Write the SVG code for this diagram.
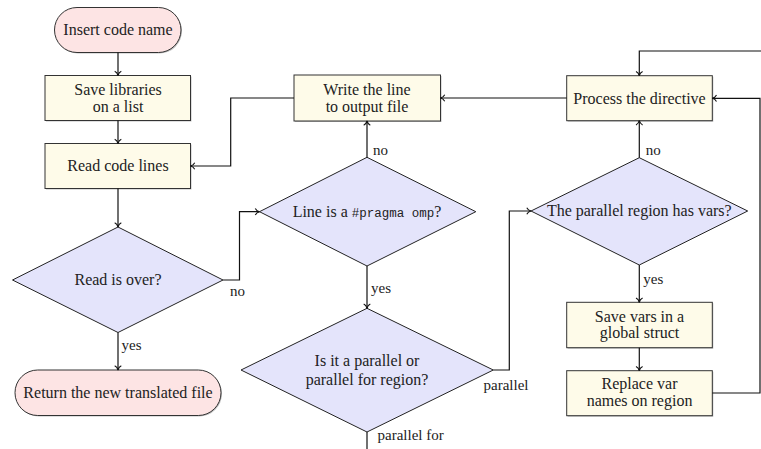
<svg xmlns="http://www.w3.org/2000/svg" width="761" height="449" viewBox="0 0 761 449">
<style>
.term{fill:#fde4e4;stroke:#333;stroke-width:1}
.proc{fill:#fefbe9;stroke:#333;stroke-width:1}
.dec{fill:#e4e4fb;stroke:#222;stroke-width:1}
.shadow{fill:#888;opacity:0.55}
text{font-family:"Liberation Serif","Times New Roman",serif;font-size:16px;fill:#222;text-anchor:middle}
.lbl{font-size:15px;text-anchor:start}
.mono{font-family:"Liberation Mono","Courier New",monospace;font-size:12.5px}
.conn path{fill:none;stroke:#111;stroke-width:1.2}
</style>
<defs>
<marker id="arr" markerUnits="userSpaceOnUse" markerWidth="10" markerHeight="10" viewBox="-6 -5 8 10" refX="0" refY="0" orient="auto">
<path d="M-4.2,-3.3 C-3.2,-1.3 -1.2,-0.3 0,0 C-1.2,0.3 -3.2,1.3 -4.2,3.3" fill="none" stroke="#111" stroke-width="1.1"/>
</marker>
</defs>
<rect width="761" height="449" fill="#fff"/>

<g id="start">
<rect class="shadow" x="55.5" y="8.5" width="126.5" height="45" rx="22.5"/>
<rect class="term" x="54.5" y="7.5" width="126.5" height="45" rx="22.5"/>
<text x="118" y="35">Insert code name</text>
</g>
<g id="savelibs">
<rect class="shadow" x="46" y="76.5" width="145.5" height="45"/>
<rect class="proc" x="45" y="75.5" width="145.5" height="45"/>
<text x="118" y="95">Save libraries</text>
<text x="118" y="111.7">on a list</text>
</g>
<g id="readlines">
<rect class="shadow" x="46" y="144.5" width="145.5" height="45"/>
<rect class="proc" x="45" y="143.5" width="145.5" height="45"/>
<text x="118" y="171">Read code lines</text>
</g>
<g id="readover">
<polygon class="dec" points="118,227 223,280 118,332.5 12.5,280"/>
<text x="118" y="285">Read is over?</text>
</g>
<g id="returnfile">
<rect class="shadow" x="16" y="371" width="206" height="45.5" rx="22.7"/>
<rect class="term" x="15" y="370" width="206" height="45.5" rx="22.7"/>
<text x="118" y="398">Return the new translated file</text>
</g>
<g id="writeline">
<rect class="shadow" x="295" y="76" width="146.5" height="46"/>
<rect class="proc" x="294" y="75" width="146.5" height="46"/>
<text x="367" y="94.5">Write the line</text>
<text x="367" y="111.5">to output file</text>
</g>
<g id="ispragma">
<polygon class="dec" points="367,157.3 475.8,211.7 367,266 259.5,211.7"/>
<text x="367" y="216.5">Line is a <tspan class="mono">#pragma omp</tspan>?</text>
</g>
<g id="isparallel">
<polygon class="dec" points="367,308.3 493.3,370 367,432 241,370"/>
<text x="367" y="366">Is it a parallel or</text>
<text x="367" y="384.5">parallel for region?</text>
</g>
<g id="process">
<rect class="shadow" x="567.7" y="76.7" width="145.6" height="45"/>
<rect class="proc" x="566.7" y="75.7" width="145.6" height="45"/>
<text x="639.5" y="103.5">Process the directive</text>
</g>
<g id="hasvars">
<polygon class="dec" points="639.3,157.7 747.7,211 639.3,265 531,211"/>
<text x="639.3" y="216">The parallel region has vars?</text>
</g>
<g id="savevars">
<rect class="shadow" x="567.7" y="303.3" width="145.6" height="45.4"/>
<rect class="proc" x="566.7" y="302.3" width="145.6" height="45.4"/>
<text x="639.5" y="321.5">Save vars in a</text>
<text x="639.5" y="337.8">global struct</text>
</g>
<g id="replace">
<rect class="shadow" x="567.7" y="371.7" width="145.6" height="45"/>
<rect class="proc" x="566.7" y="370.7" width="145.6" height="45"/>
<text x="639.5" y="389">Replace var</text>
<text x="639.5" y="406">names on region</text>
</g>

<g id="connectors" class="conn">
<path d="M118,52.5 V75.5" marker-end="url(#arr)"/>
<path d="M118,120.5 V143.5" marker-end="url(#arr)"/>
<path d="M118,188.5 V227" marker-end="url(#arr)"/>
<path d="M118,332.5 V370" marker-end="url(#arr)"/>
<path d="M223,280 H239.5 V211.7 H259.5" marker-end="url(#arr)"/>
<path d="M367,157.3 V121" marker-end="url(#arr)"/>
<path d="M294,98 H230.7 V166 H190.5" marker-end="url(#arr)"/>
<path d="M367,266 V308.3" marker-end="url(#arr)"/>
<path d="M493.3,370 H509.3 V211 H531" marker-end="url(#arr)"/>
<path d="M367,432 V449"/>
<path d="M566.7,98 H440.5" marker-end="url(#arr)"/>
<path d="M762,51 H639.3 V75.7" marker-end="url(#arr)"/>
<path d="M639.3,157.7 V120.7" marker-end="url(#arr)"/>
<path d="M639.3,265 V302.3" marker-end="url(#arr)"/>
<path d="M639.3,347.7 V370.7" marker-end="url(#arr)"/>
<path d="M712.3,393 H760 V98.3 H712.3" marker-end="url(#arr)"/>
<text class="lbl" x="121.5" y="349.5">yes</text>
<text class="lbl" x="230" y="296">no</text>
<text class="lbl" x="373" y="155">no</text>
<text class="lbl" x="371" y="292.5">yes</text>
<text class="lbl" x="483.5" y="390">parallel</text>
<text class="lbl" x="377.5" y="440">parallel for</text>
<text class="lbl" x="645.7" y="155">no</text>
<text class="lbl" x="643.3" y="284">yes</text>
</g>
</svg>
